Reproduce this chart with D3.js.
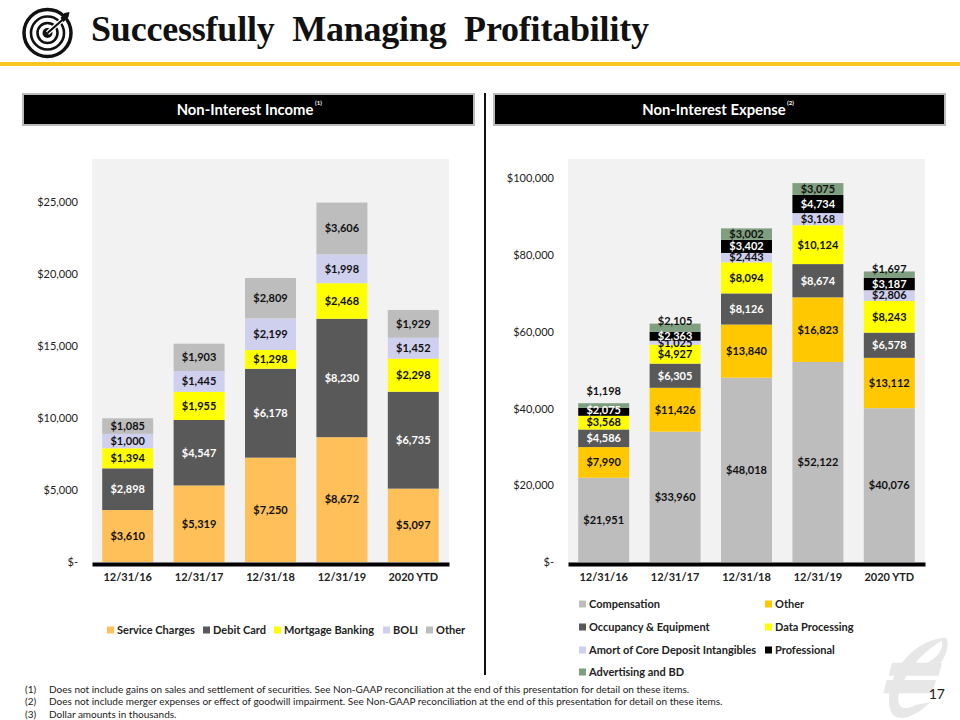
<!DOCTYPE html>
<html>
<head>
<meta charset="utf-8">
<script src="https://cdn.jsdelivr.net/npm/d3@7"></script>
<style>
html, body { margin: 0; padding: 0; background: #fff; }
svg { display: block; }
text { font-family: Lato, sans-serif; }
</style>
</head>
<body>
<script>
const categories = ['12/31/16', '12/31/17', '12/31/18', '12/31/19', '2020 YTD'];

// non-interest income, bottom to top
const serviceCharges = [3610, 5319, 7250, 8672, 5097];
const debitCard = [2898, 4547, 6178, 8230, 6735];
const mortgageBanking = [1394, 1955, 1298, 2468, 2298];
const boli = [1000, 1445, 2199, 1998, 1452];
const otherIncome = [1085, 1903, 2809, 3606, 1929];

// non-interest expense, bottom to top
const compensation = [21951, 33960, 48018, 52122, 40076];
const otherExpense = [7990, 11426, 13840, 16823, 13112];
const occupancy = [4586, 6305, 8126, 8674, 6578];
const dataProcessing = [3568, 4927, 8094, 10124, 8243];
const amortCdi = [0, 1025, 2443, 3168, 2806];
const professional = [2075, 2363, 3402, 4734, 3187];
const advertising = [1198, 2105, 3002, 3075, 1697];

const incomeTicks = [0, 5000, 10000, 15000, 20000, 25000];
const expenseTicks = [0, 20000, 40000, 60000, 80000, 100000];

const footnotes = [
  'Does not include gains on sales and settlement of securities.  See Non-GAAP reconciliation at the end of this presentation for detail on these items.',
  'Does not include merger expenses or effect of goodwill impairment.  See Non-GAAP reconciliation at the end of this presentation for detail on these items.',
  'Dollar amounts in thousands.'
];

const incomeSeries = [
  {name: 'Service Charges', values: serviceCharges, color: '#FFC05A', label: '#111'},
  {name: 'Debit Card', values: debitCard, color: '#595959', label: '#fff'},
  {name: 'Mortgage Banking', values: mortgageBanking, color: '#FFFF00', label: '#111'},
  {name: 'BOLI', values: boli, color: '#CFCFEE', label: '#111'},
  {name: 'Other', values: otherIncome, color: '#BDBDBD', label: '#111'}
];
const expenseSeries = [
  {name: 'Compensation', values: compensation, color: '#BDBDBD', label: '#111'},
  {name: 'Other', values: otherExpense, color: '#FFC800', label: '#111'},
  {name: 'Occupancy & Equipment', values: occupancy, color: '#595959', label: '#fff'},
  {name: 'Data Processing', values: dataProcessing, color: '#FFFF00', label: '#111'},
  {name: 'Amort of Core Deposit Intangibles', values: amortCdi, color: '#CFCFEE', label: '#111'},
  {name: 'Professional', values: professional, color: '#000000', label: '#fff'},
  {name: 'Advertising and BD', values: advertising, color: '#7F9F80', label: '#111'}
];

const svg = d3.select('body').append('svg').attr('width', 960).attr('height', 720);
svg.append('rect').attr('width', 960).attr('height', 720).attr('fill', '#fff');

// watermark behind the page number
const mark = svg.append('g').attr('transform', 'translate(870,625) scale(0.3333)').attr('fill', '#E7E7E7');
mark.append('path').attr('fill-rule', 'evenodd')
  .attr('d', 'M228,38 C170,40 115,80 85,130 C60,172 50,225 62,258 C75,290 125,288 180,232 L135,240 C105,258 82,250 85,218 C90,170 140,90 215,47 C222,70 205,95 172,113 L212,113 C232,90 238,50 228,38 Z');
mark.append('path').attr('d', 'M66,113 L216,113 L206,152 L56,152 Z');
mark.append('path').attr('d', 'M50,165 L198,165 L186,205 L40,205 Z');

// target logo
const logo = svg.append('g').attr('transform', 'translate(47.5,33)');
[[23.5, 3.5], [16.5, 2.6], [10, 2.6]].forEach(function (r) {
  logo.append('circle').attr('r', r[0]).attr('fill', 'none').attr('stroke', '#111').attr('stroke-width', r[1]);
});
logo.append('circle').attr('r', 5).attr('fill', '#111');
logo.append('path').attr('d', 'M0,0 L17,-15').attr('stroke', '#fff').attr('stroke-width', 4.5);
logo.append('path').attr('d', 'M0,0 L16,-14').attr('stroke', '#111').attr('stroke-width', 2.2);
logo.append('path').attr('d', 'M13,-15 L17,-20 L22,-21 L21,-16 L16,-11 Z').attr('fill', '#111');

svg.append('text').attr('x', 91).attr('y', 41)
  .style('font-family', '"Liberation Serif", serif').style('font-weight', 700).style('font-size', '36px')
  .attr('fill', '#111').attr('xml:space', 'preserve')
  .attr('textLength', 558).attr('lengthAdjust', 'spacing')
  .text('Successfully  Managing  Profitability');
svg.append('rect').attr('x', 0).attr('y', 62).attr('width', 960).attr('height', 4).attr('fill', '#F5C71F');

// divider between the two panels
svg.append('rect').attr('x', 484).attr('y', 93).attr('width', 2).attr('height', 582).attr('fill', '#111');

function header(x, w, title, note, textX, noteX) {
  svg.append('rect').attr('x', x).attr('y', 94).attr('width', w).attr('height', 31)
    .attr('fill', '#000').attr('stroke', '#BBB').attr('stroke-width', 2);
  svg.append('text').attr('x', textX).attr('y', 115).attr('text-anchor', 'middle')
    .attr('fill', '#fff').style('font-weight', 700).style('font-size', '14.8px').text(title);
  svg.append('text').attr('x', noteX).attr('y', 105)
    .attr('fill', '#fff').style('font-weight', 700).style('font-size', '6px').text(note);
}
header(23, 451, 'Non-Interest Income', '(1)', 245, 315);
header(494, 451, 'Non-Interest Expense', '(2)', 714, 787);

function drawChart(opt) {
  const x = d3.scaleBand().domain(categories).range([opt.left, opt.left + 357])
    .paddingInner(0.286).paddingOuter(0.143);
  const y = d3.scaleLinear().domain([0, opt.max]).range([562, 159]);
  const g = svg.append('g');

  g.append('rect').attr('x', opt.left).attr('y', 159).attr('width', 357).attr('height', 405).attr('fill', '#F2F2F2');

  const table = categories.map(function (c, i) {
    const row = {cat: c};
    opt.series.forEach(function (s) { row[s.name] = s.values[i]; });
    return row;
  });
  const stack = d3.stack().keys(opt.series.map(function (s) { return s.name; }))(table);

  const layers = g.selectAll('.layer').data(stack).enter().append('g').attr('class', 'layer');
  layers.selectAll('rect').data(function (d) { return d; }).enter().append('rect')
    .attr('x', function (d) { return x(d.data.cat); })
    .attr('y', function (d) { return y(d[1]); })
    .attr('width', x.bandwidth())
    .attr('height', function (d) { return y(d[0]) - y(d[1]); })
    .attr('fill', function (d, i, n) { return opt.series[stack.indexOf(d3.select(n[i].parentNode).datum())].color; });

  // values, skipping empty segments; labels on thin top segments sit higher
  stack.forEach(function (layer, li) {
    layer.forEach(function (d, i) {
      const v = d[1] - d[0];
      if (!v) return;
      const nudge = (opt.nudges[li + '-' + i] || 0);
      g.append('text')
        .attr('x', x(d.data.cat) + x.bandwidth() / 2)
        .attr('y', (y(d[0]) + y(d[1])) / 2 + nudge)
        .attr('dy', '0.35em').attr('text-anchor', 'middle')
        .attr('fill', opt.series[li].label)
        .style('font-weight', 700).style('font-size', '11px')
        .text(d3.format('$,')(v));
    });
  });

  const yAxis = g.append('g').attr('transform', 'translate(' + opt.left + ',0)')
    .call(d3.axisLeft(y).tickValues(opt.ticks).tickSize(0).tickPadding(14)
      .tickFormat(function (d) { return d === 0 ? '$-' : d3.format('$,')(d); }));
  yAxis.select('.domain').remove();
  yAxis.selectAll('text').style('font-family', 'Lato, sans-serif').style('font-size', '11px').attr('fill', '#222');

  const xAxis = g.append('g').attr('transform', 'translate(0,564)')
    .call(d3.axisBottom(x).tickSize(0).tickPadding(9));
  xAxis.select('.domain').attr('stroke', '#000').attr('stroke-width', 4);
  xAxis.selectAll('text').style('font-family', 'Lato, sans-serif').style('font-size', '11px')
    .style('font-weight', 700).attr('fill', '#222');
}

drawChart({left: 92, max: 28000, ticks: incomeTicks, series: incomeSeries, nudges: {}});
drawChart({left: 568, max: 105000, ticks: expenseTicks, series: expenseSeries,
  nudges: {'6-0': -14, '6-1': -7, '6-4': -5.5, '5-0': -1.5}});

function legendItem(s, sx, cy) {
  svg.append('rect').attr('x', sx).attr('y', cy - 3.5).attr('width', 7).attr('height', 7).attr('fill', s.color);
  svg.append('text').attr('x', sx + 10).attr('y', cy).attr('dy', '0.35em')
    .attr('fill', '#222').style('font-weight', 700).style('font-size', '11px').text(s.name);
}
[107, 203, 274, 383, 426].forEach(function (sx, i) { legendItem(incomeSeries[i], sx, 630); });
[[579, 604], [765, 604], [579, 627], [765, 627], [579, 650], [765, 650], [579, 672]].forEach(function (p, i) {
  legendItem(expenseSeries[i], p[0], p[1]);
});

footnotes.forEach(function (t, i) {
  const fy = 692.5 + i * 12.5;
  svg.append('text').attr('x', 25).attr('y', fy).attr('fill', '#222').style('font-size', '10px').text('(' + (i + 1) + ')');
  svg.append('text').attr('x', 49).attr('y', fy).attr('fill', '#222').style('font-size', '10px').text(t);
});

svg.append('text').attr('x', 945).attr('y', 699).attr('text-anchor', 'end')
  .attr('fill', '#222').style('font-size', '14px').text('17');
</script>
</body>
</html>
